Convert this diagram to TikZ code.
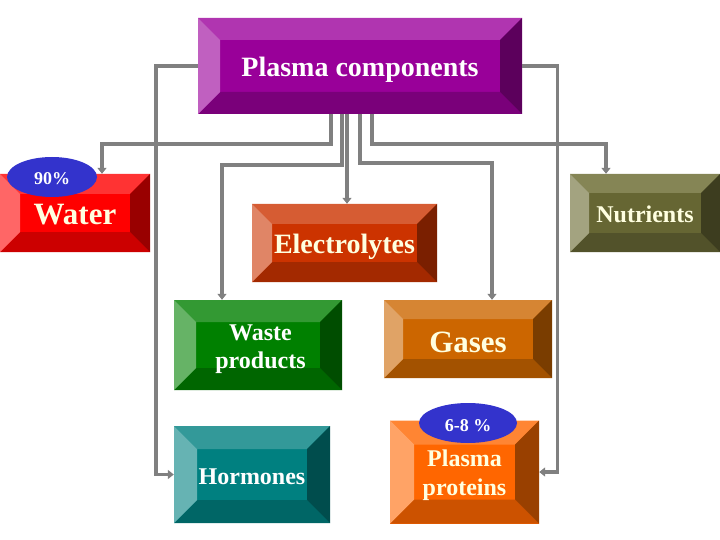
\documentclass[tikz,border=0pt]{standalone}
\usepackage{fontspec}
\setmainfont{Liberation Serif}
\usetikzlibrary{arrows.meta,shapes.geometric}
\definecolor{conncol}{HTML}{808080}
\definecolor{ellcol}{HTML}{3333CC}
\definecolor{cream}{HTML}{FFFFE0}
% plasma components
\definecolor{pcF}{HTML}{990099}\definecolor{pcT}{HTML}{B035B0}\definecolor{pcL}{HTML}{C060C0}\definecolor{pcR}{HTML}{5C005C}\definecolor{pcB}{HTML}{7A007A}
% water
\definecolor{waF}{HTML}{FF0000}\definecolor{waT}{HTML}{FF3333}\definecolor{waL}{HTML}{FF6666}\definecolor{waR}{HTML}{990000}\definecolor{waB}{HTML}{CC0000}
% nutrients
\definecolor{nuF}{HTML}{666633}\definecolor{nuT}{HTML}{858555}\definecolor{nuL}{HTML}{A3A380}\definecolor{nuR}{HTML}{3D3D1F}\definecolor{nuB}{HTML}{52522A}
% electrolytes
\definecolor{elF}{HTML}{CC3300}\definecolor{elT}{HTML}{D65C33}\definecolor{elL}{HTML}{E08566}\definecolor{elR}{HTML}{7A1F00}\definecolor{elB}{HTML}{A32900}
% waste
\definecolor{wsF}{HTML}{008000}\definecolor{wsT}{HTML}{339933}\definecolor{wsL}{HTML}{66B366}\definecolor{wsR}{HTML}{004D00}\definecolor{wsB}{HTML}{006600}
% gases
\definecolor{gaF}{HTML}{CC6600}\definecolor{gaT}{HTML}{D68533}\definecolor{gaL}{HTML}{E0A366}\definecolor{gaR}{HTML}{7A3D00}\definecolor{gaB}{HTML}{A35200}
% hormones
\definecolor{hoF}{HTML}{008080}\definecolor{hoT}{HTML}{339999}\definecolor{hoL}{HTML}{66B3B3}\definecolor{hoR}{HTML}{004D4D}\definecolor{hoB}{HTML}{006666}
% plasma proteins
\definecolor{ppF}{HTML}{FF6600}\definecolor{ppT}{HTML}{FF8533}\definecolor{ppL}{HTML}{FFA366}\definecolor{ppR}{HTML}{994000}\definecolor{ppB}{HTML}{CC5200}
\newcommand\lowr[2]{\raisebox{-#1}[\height][\depth]{#2}}
\newcommand\twol[2]{\begin{tabular}{@{}c@{}}#1\\#2\end{tabular}}
\tikzset{
  bevbox/.style n args={2}{rectangle, inner sep=0pt, draw=none, fill=#2F,
    path picture={
      \fill[#2T] (path picture bounding box.north west) -- (path picture bounding box.north east)
        -- ([xshift=-#1,yshift=-#1]path picture bounding box.north east)
        -- ([xshift=#1,yshift=-#1]path picture bounding box.north west) -- cycle;
      \fill[#2B] (path picture bounding box.south west) -- (path picture bounding box.south east)
        -- ([xshift=-#1,yshift=#1]path picture bounding box.south east)
        -- ([xshift=#1,yshift=#1]path picture bounding box.south west) -- cycle;
      \fill[#2L] (path picture bounding box.north west) -- (path picture bounding box.south west)
        -- ([xshift=#1,yshift=#1]path picture bounding box.south west)
        -- ([xshift=#1,yshift=-#1]path picture bounding box.north west) -- cycle;
      \fill[#2R] (path picture bounding box.north east) -- (path picture bounding box.south east)
        -- ([xshift=-#1,yshift=#1]path picture bounding box.south east)
        -- ([xshift=-#1,yshift=-#1]path picture bounding box.north east) -- cycle;
    }},
  conn/.style={draw=conncol, line width=3.4pt, -{Triangle[width=9pt,length=6pt]}},
  badge/.style={ellipse, fill=ellcol, draw=none, inner sep=0pt, text=white,
    font=\bfseries\fontsize{18}{20}\selectfont}
}
\begin{document}
\begin{tikzpicture}[x=1pt,y=-1pt]
\useasboundingbox (0,0) rectangle (720,540);
% boxes
\node[bevbox={22pt}{pc}, minimum width=324pt, minimum height=96pt, text=white,
  font=\bfseries\fontsize{28}{30}\selectfont] (pc) at (360,66) {\lowr{4pt}{Plasma components}};
\node[bevbox={20pt}{wa}, minimum width=150pt, minimum height=78pt, text=cream,
  font=\bfseries\fontsize{31}{33}\selectfont] (water) at (75,213) {\lowr{1.5pt}{Water}};
\node[bevbox={19pt}{nu}, minimum width=150pt, minimum height=78pt, text=cream,
  font=\bfseries\fontsize{24}{26}\selectfont] (nut) at (645,213) {\lowr{1pt}{Nutrients}};
\node[bevbox={20pt}{el}, minimum width=185pt, minimum height=78pt, text=cream,
  font=\bfseries\fontsize{28}{30}\selectfont] (elec) at (344.5,243) {\lowr{4pt}{Electrolytes}};
\node[bevbox={22pt}{ws}, minimum width=168pt, minimum height=90pt, text=white,
  font=\bfseries\fontsize{24}{28}\selectfont] (waste) at (258,345) {\lowr{4pt}{\hspace*{5pt}\twol{Waste}{products}}};
\node[bevbox={19pt}{ga}, minimum width=168pt, minimum height=78pt, text=cream,
  font=\bfseries\fontsize{31}{33}\selectfont] (gases) at (468,339) {\lowr{3pt}{Gases}};
\node[bevbox={23pt}{ho}, minimum width=156pt, minimum height=97pt, text=white,
  font=\bfseries\fontsize{24}{28}\selectfont] (horm) at (252,474.5) {\lowr{2pt}{Hormones}};
\node[bevbox={24pt}{pp}, minimum width=149pt, minimum height=103pt, text=cream,
  font=\bfseries\fontsize{24}{29}\selectfont] (pp) at (464.5,472) {\lowr{3pt}{\twol{Plasma}{proteins}}};
% connectors
\draw[conn] ([xshift=-29pt]pc.south) |- (102,144) -- ([xshift=27pt]water.north);
\draw[conn] ([xshift=-18pt]pc.south) |- (222,165) -- ([xshift=-36pt]waste.north);
\draw[conn] ([xshift=-13pt]pc.south) -- ([xshift=2.5pt]elec.north);
\draw[conn] (pc.south) |- (492,163) -- ([xshift=24pt]gases.north);
\draw[conn] ([xshift=12pt]pc.south) |- (606,144) -- ([xshift=-39pt]nut.north);
\draw[conn] (pc.west) -- ++(-42,0) |- (horm.west);
\draw[conn] (pc.east) -- ++(35,0) |- (pp.east);
% badges
\node[badge, minimum width=90pt, minimum height=40pt] (b90) at (52,177) {\lowr{2pt}{90\%}};
\node[badge, minimum width=98pt, minimum height=40pt] (b68) at (468,423) {\lowr{3pt}{6-8 \%}};
\end{tikzpicture}
\end{document}
